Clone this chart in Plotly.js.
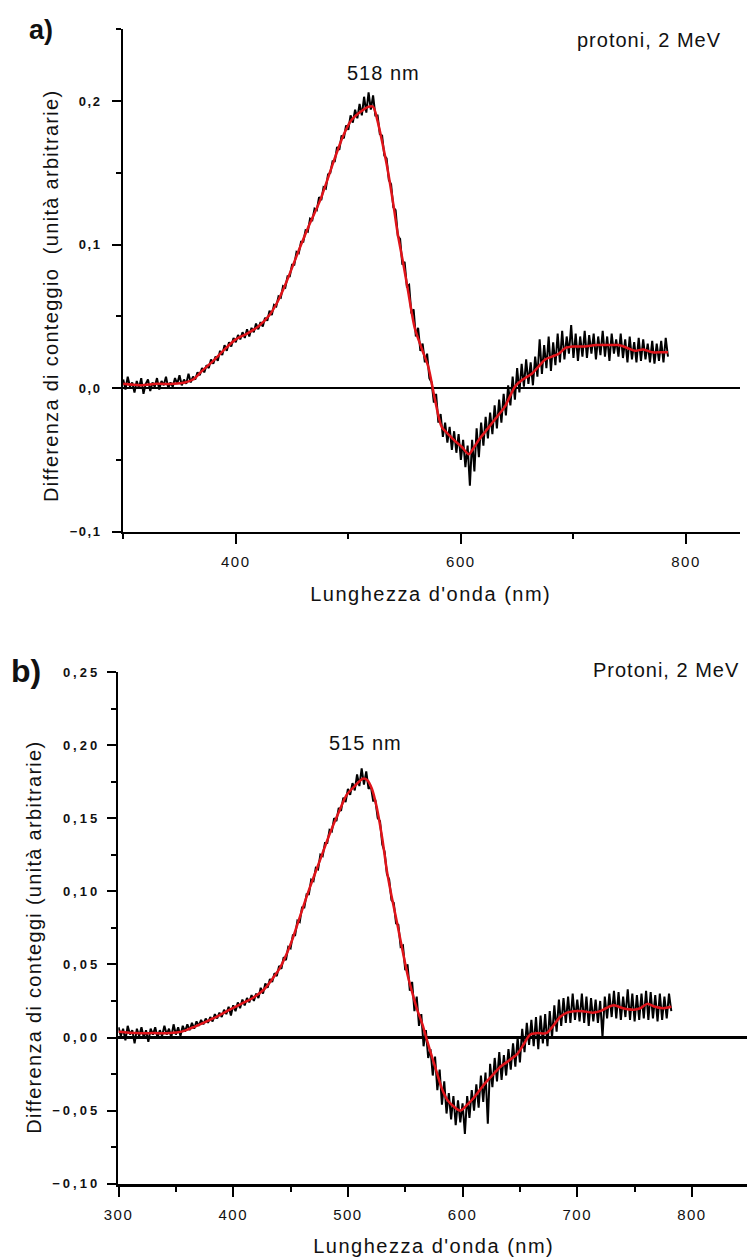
<!DOCTYPE html>
<html>
<head>
<meta charset="utf-8">
<script src="https://cdn.plot.ly/plotly-3.0.1.min.js"></script>
<style>
html,body{margin:0;padding:0;background:#fff;}
#chart{width:748px;height:1259px;}
.xtick text,.x2tick text{letter-spacing:1.5px;}
.ytick text{letter-spacing:1.5px;}
.y2tick text{letter-spacing:3px;}
.annotation text{letter-spacing:1px;}
.annotation[data-index="6"] text,.annotation[data-index="7"] text{letter-spacing:1.5px;}
.annotation[data-index="8"] text,.annotation[data-index="9"] text{letter-spacing:1.3px;}
.annotation[data-index="0"] text,.annotation[data-index="1"] text{letter-spacing:0px;}
</style>
</head>
<body>
<div id="chart"></div>
<script>
// ---------- data ----------
// panel a: measured spectrum sampled every 2 nm starting at 300 nm
const aStart = 300, aStep = 2;
const aNoisy = [
0.006,-0.001,0.008,0.001,0.004,-0.003,0.005,0.000,0.007,-0.004,
0.003,0.006,-0.002,0.004,0.001,0.007,-0.001,0.005,0.002,0.008,
0.000,0.004,0.001,0.007,0.003,0.009,0.002,0.006,0.003,0.010,
0.004,0.008,0.006,0.011,0.009,0.014,0.011,0.016,0.014,0.020,
0.017,0.022,0.019,0.026,0.023,0.030,0.026,0.032,0.029,0.035,
0.032,0.037,0.034,0.039,0.035,0.041,0.036,0.042,0.039,0.045,
0.041,0.046,0.043,0.049,0.047,0.054,0.051,0.058,0.057,0.064,
0.063,0.071,0.070,0.078,0.078,0.086,0.086,0.095,0.094,0.102,
0.102,0.110,0.109,0.118,0.117,0.125,0.124,0.133,0.131,0.140,
0.139,0.149,0.150,0.158,0.158,0.168,0.166,0.176,0.174,0.183,
0.180,0.190,0.185,0.194,0.188,0.198,0.190,0.203,0.192,0.206,
0.194,0.204,0.190,0.190,0.177,0.176,0.162,0.160,0.145,0.142,
0.126,0.124,0.106,0.104,0.086,0.088,0.071,0.072,0.052,0.055,
0.036,0.042,0.026,0.031,0.018,0.024,0.007,0.004,-0.010,-0.004,
-0.024,-0.018,-0.034,-0.024,-0.038,-0.027,-0.043,-0.030,-0.045,-0.032,
-0.050,-0.036,-0.055,-0.040,-0.068,-0.036,-0.058,-0.028,-0.048,-0.024,
-0.040,-0.020,-0.035,-0.017,-0.032,-0.012,-0.028,-0.008,-0.024,-0.004,
-0.019,0.002,-0.012,0.008,-0.008,0.014,-0.003,0.017,0.001,0.020,
0.003,0.018,0.002,0.022,0.008,0.034,0.010,0.030,0.014,0.036,
0.012,0.032,0.016,0.038,0.018,0.040,0.020,0.036,0.024,0.044,
0.021,0.038,0.019,0.036,0.022,0.040,0.021,0.037,0.024,0.038,
0.020,0.036,0.023,0.040,0.022,0.036,0.019,0.038,0.024,0.034,
0.022,0.038,0.021,0.034,0.018,0.036,0.020,0.032,0.018,0.035,
0.019,0.034,0.020,0.031,0.018,0.033,0.017,0.031,0.019,0.033,
0.018,0.035,0.022
];
// panel a: smoothed (red) curve
const aSmoothX = [300,315,330,345,355,362,370,380,390,400,410,420,430,437,445,457,466,475,487,495,502,510,518,522,526,531,535,540,544,549,553,559,565,571,577,583,590,595,601,607,611,616,622,627,633,639,644,648,655,663,669,675,681,687,693,700,710,720,730,740,748,755,762,770,778,784];
const aSmoothY = [0.003,0.002,0.003,0.003,0.004,0.006,0.012,0.019,0.027,0.034,0.038,0.043,0.051,0.060,0.074,0.098,0.115,0.131,0.158,0.175,0.186,0.192,0.196,0.196,0.186,0.168,0.152,0.128,0.107,0.086,0.068,0.042,0.028,0.015,-0.008,-0.027,-0.033,-0.037,-0.041,-0.046,-0.042,-0.036,-0.030,-0.025,-0.019,-0.013,-0.005,0.001,0.006,0.010,0.015,0.020,0.022,0.024,0.028,0.029,0.029,0.030,0.030,0.030,0.028,0.026,0.027,0.025,0.025,0.025];

// panel b: measured spectrum sampled every 2 nm starting at 300 nm
const bStart = 300, bStep = 2;
const bNoisy = [
0.007,0.001,0.006,-0.002,0.008,0.002,0.005,-0.004,0.006,0.001,
0.007,0.000,0.005,-0.003,0.006,0.002,0.007,0.000,0.005,0.001,
0.008,0.002,0.006,0.000,0.009,0.002,0.007,0.001,0.008,0.004,
0.009,0.005,0.010,0.006,0.011,0.008,0.012,0.009,0.013,0.010,
0.014,0.011,0.016,0.013,0.017,0.014,0.019,0.016,0.021,0.015,
0.022,0.018,0.024,0.020,0.026,0.022,0.027,0.024,0.029,0.025,
0.030,0.027,0.034,0.030,0.037,0.034,0.040,0.038,0.044,0.042,
0.049,0.047,0.055,0.053,0.062,0.061,0.070,0.070,0.080,0.079,
0.089,0.089,0.098,0.098,0.108,0.107,0.116,0.115,0.125,0.124,
0.133,0.133,0.142,0.141,0.150,0.148,0.157,0.155,0.164,0.161,
0.170,0.166,0.174,0.169,0.180,0.172,0.184,0.173,0.182,0.170,
0.172,0.162,0.162,0.150,0.148,0.132,0.127,0.112,0.108,0.094,
0.092,0.078,0.077,0.062,0.063,0.046,0.050,0.032,0.038,0.018,
0.028,0.008,0.016,-0.006,0.005,-0.014,-0.008,-0.026,-0.013,-0.036,
-0.022,-0.046,-0.030,-0.052,-0.038,-0.056,-0.040,-0.060,-0.043,-0.058,
-0.045,-0.066,-0.040,-0.055,-0.036,-0.050,-0.032,-0.048,-0.026,-0.044,
-0.024,-0.059,-0.018,-0.034,-0.014,-0.030,-0.010,-0.029,-0.012,-0.026,
-0.008,-0.022,-0.004,-0.020,0.000,-0.017,0.006,-0.010,0.010,-0.005,
0.012,-0.006,0.014,-0.008,0.015,-0.004,0.016,-0.006,0.018,0.000,
0.022,0.004,0.026,0.008,0.027,0.010,0.028,0.010,0.030,0.012,
0.026,0.011,0.030,0.010,0.028,0.008,0.027,0.011,0.026,0.010,
0.025,0.000,0.028,0.013,0.030,0.014,0.032,0.013,0.031,0.012,
0.028,0.014,0.033,0.012,0.030,0.011,0.029,0.012,0.030,0.013,
0.032,0.012,0.031,0.013,0.029,0.011,0.030,0.012,0.028,0.013,
0.030,0.018
];
// panel b: smoothed (red) curve
const bSmoothX = [300,315,330,345,355,362,371,385,397,407,417,427,435,441,447,452,460,467,476,484,492,499,506,513,517,521,525,530,534,538,543,547,552,556,560,565,569,574,578,582,587,592,598,604,610,615,621,627,633,640,648,653,659,665,673,679,685,691,697,705,713,720,725,732,740,749,755,761,768,775,782];
const bSmoothY = [0.004,0.003,0.003,0.003,0.004,0.006,0.009,0.014,0.019,0.023,0.027,0.033,0.041,0.048,0.058,0.068,0.087,0.103,0.122,0.139,0.154,0.166,0.172,0.177,0.176,0.170,0.158,0.136,0.114,0.097,0.078,0.062,0.043,0.031,0.020,0.009,-0.002,-0.015,-0.025,-0.035,-0.043,-0.047,-0.050,-0.046,-0.041,-0.036,-0.030,-0.025,-0.020,-0.016,-0.011,-0.005,0.002,0.003,0.003,0.008,0.014,0.017,0.018,0.018,0.017,0.018,0.020,0.022,0.020,0.019,0.020,0.023,0.021,0.020,0.021];

// text
const xTitle = "Lunghezza d'onda (nm)";
const yTitleA = "Differenza di conteggio\u00a0 (unità arbitrarie)";
const yTitleB = "Differenza di conteggi (unità arbitrarie)";
const peakA = "518 nm", peakB = "515 nm";
const labelA = "protoni, 2 MeV", labelB = "Protoni, 2 MeV";

// ---------- build ----------
const aX = aNoisy.map((_, i) => aStart + i * aStep);
const bX = bNoisy.map((_, i) => bStart + i * bStep);

const traces = [
  {x: aX, y: aNoisy, xaxis: 'x', yaxis: 'y', mode: 'lines', line: {color: '#000', width: 2}, hoverinfo: 'skip'},
  {x: aSmoothX, y: aSmoothY, xaxis: 'x', yaxis: 'y', mode: 'lines', line: {color: '#e0141a', width: 2.5, shape: 'spline', smoothing: 0.8}, hoverinfo: 'skip'},
  {x: bX, y: bNoisy, xaxis: 'x2', yaxis: 'y2', mode: 'lines', line: {color: '#000', width: 2}, hoverinfo: 'skip'},
  {x: bSmoothX, y: bSmoothY, xaxis: 'x2', yaxis: 'y2', mode: 'lines', line: {color: '#e0141a', width: 2.5, shape: 'spline', smoothing: 0.8}, hoverinfo: 'skip'}
];

const W = 748, H = 1259;
const px = v => v / W, py = v => 1 - v / H;
const FONT = 'Liberation Sans, Arial, sans-serif';

function xAx(dom, anchor, dtick, mdtick, lw) {
  return {domain: dom, anchor: anchor, range: [299.8, 848], showline: true, linecolor: '#000', linewidth: lw,
    ticks: 'outside', ticklen: 10, tickwidth: 2, tickcolor: '#000', tick0: 0, dtick: dtick,
    minor: {ticks: 'outside', ticklen: 5, tickwidth: 2, tickcolor: '#000', tick0: 0, dtick: mdtick, showgrid: false},
    showgrid: false, zeroline: false, tickfont: {family: FONT, size: 15, color: '#111'}, ticklabelstandoff: 5};
}
function yAx(dom, anchor, dtick, mdtick, fmt, lw, fs, so) {
  return {domain: dom, anchor: anchor, range: [-0.1002, 0.2502], showline: true, linecolor: '#000', linewidth: lw,
    ticks: 'outside', ticklen: 9, tickwidth: 2, tickcolor: '#000', tick0: 0, dtick: dtick, tickformat: fmt,
    minor: {ticks: 'outside', ticklen: 5, tickwidth: 2, tickcolor: '#000', tick0: 0, dtick: mdtick, showgrid: false},
    showgrid: false, zeroline: true, zerolinecolor: '#000', zerolinewidth: 2.5,
    tickfont: {family: FONT, size: fs, color: '#111', weight: 'bold'}, ticklabelstandoff: so};
}

const ann = (text, x, y, size, opts) => Object.assign({text: text, xref: 'paper', yref: 'paper', x: px(x), y: py(y),
  xanchor: 'center', yanchor: 'middle', showarrow: false, font: {family: FONT, size: size, color: '#111'}}, opts || {});

const layout = {
  width: W, height: H, margin: {l: 0, r: 0, t: 0, b: 0},
  paper_bgcolor: '#fff', plot_bgcolor: '#fff', showlegend: false, separators: ',.',
  font: {family: FONT, color: '#111'},
  xaxis: xAx([px(123), px(740)], 'y', 200, 100, 2),
  yaxis: yAx([py(532), py(29)], 'x', 0.1, 0.05, '.1f', 2, 13, 8),
  xaxis2: xAx([px(118.3), px(747)], 'y2', 100, 50, 2.5),
  yaxis2: yAx([py(1184), py(671.7)], 'x2', 0.05, 0.025, '.2f', 2.5, 13, 4),
  annotations: [
    ann('<b>a)</b>', 40.5, 30.5, 27),
    ann('<b>b)</b>', 26, 670.5, 32),
    ann(peakA, 383, 72.5, 20),
    ann(labelA, 649, 40, 20),
    ann(peakB, 365.5, 743, 20),
    ann(labelB, 666, 670, 20),
    ann(xTitle, 431, 594, 20),
    ann(xTitle, 433.7, 1246, 20),
    ann(yTitleA, 51, 296, 20, {textangle: -90}),
    ann(yTitleB, 34, 937, 20, {textangle: -90})
  ]
};

Plotly.newPlot('chart', traces, layout, {staticPlot: true, displayModeBar: false});
</script>
</body>
</html>
